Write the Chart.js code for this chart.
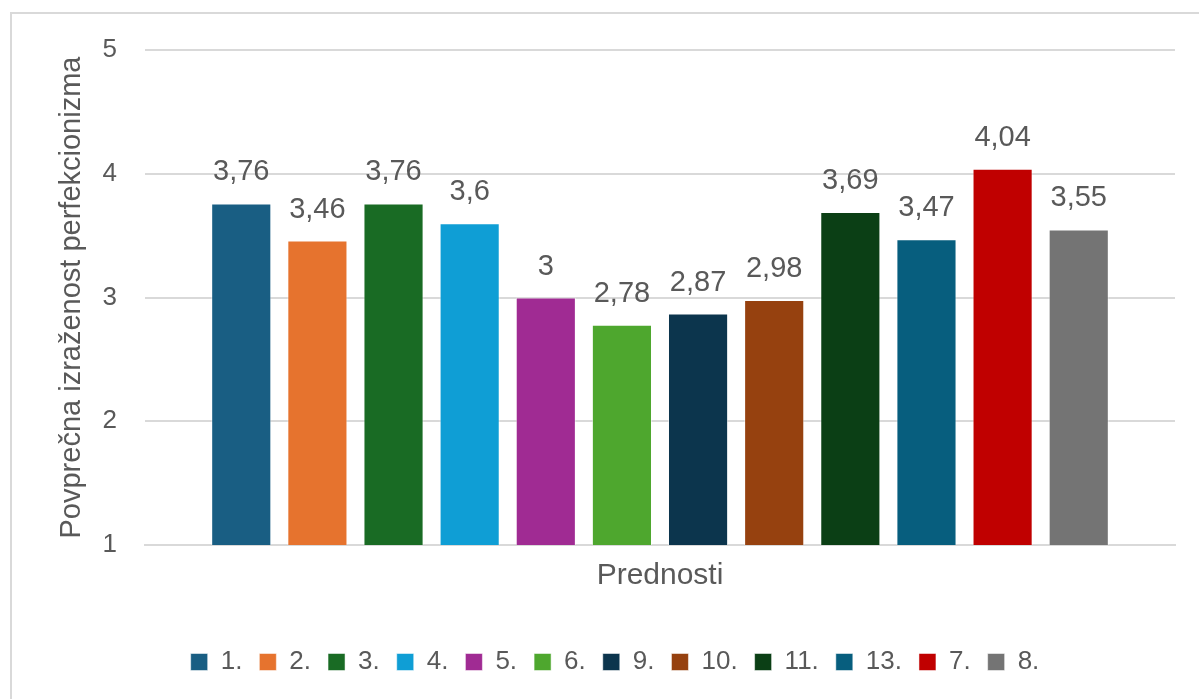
<!DOCTYPE html>
<html>
<head>
    <title>Prednosti</title>
    <script src="https://cdn.jsdelivr.net/npm/chart.js"></script>
    <style>
        body {
            margin: 0;
            background-color: #ffffff;
            overflow: hidden;
        }
        .frame {
            position: absolute;
            left: 10px;
            top: 12px;
            width: 1300px;
            height: 800px;
            border: 2px solid #d9d9d9;
        }
        .wrap {
            position: absolute;
            left: 0;
            top: 0;
            width: 1199px;
            height: 699px;
        }
    </style>
</head>
<body>
    <div class="frame"></div>
    <div class="wrap"><canvas id="chart"></canvas></div>

    <script>
        // Legend order as in the original
        var labels = ['1.', '2.', '3.', '4.', '5.', '6.', '9.', '10.', '11.', '13.', '7.', '8.'];
        var values = [3.76, 3.46, 3.76, 3.6, 3, 2.78, 2.87, 2.98, 3.69, 3.47, 4.04, 3.55];
        var colors = ['#195e83', '#e6732e', '#196b24', '#0f9ed5', '#a02b93', '#4ea72e',
                      '#0c354d', '#96410f', '#0b3f15', '#075e7e', '#c00000', '#747474'];
        var yTicks = [1, 2, 3, 4, 5];

        var textColor = '#595959';
        var fontFamily = "'Liberation Sans', Arial, sans-serif";

        // values above the bars, comma as decimal sign
        var valueLabels = {
            id: 'valueLabels',
            afterDatasetsDraw: function(chart) {
                var ctx = chart.ctx;
                ctx.save();
                ctx.font = '29px ' + fontFamily;
                ctx.fillStyle = textColor;
                ctx.textAlign = 'center';
                ctx.textBaseline = 'middle';
                chart.data.datasets.forEach(function(ds, i) {
                    var bar = chart.getDatasetMeta(i).data[0];
                    ctx.fillText(String(ds.data[0]).replace('.', ','), bar.x, bar.y - 31);
                });
                ctx.restore();
            }
        };

        new Chart(document.getElementById('chart'), {
            type: 'bar',
            plugins: [valueLabels],
            data: {
                labels: [''],
                datasets: labels.map(function(l, i) {
                    return {
                        label: l,
                        data: [values[i]],
                        backgroundColor: colors[i],
                        borderColor: 'rgba(255,255,255,0.5)',
                        borderWidth: 1,
                        categoryPercentage: 0.887,
                        barPercentage: 0.79
                    };
                })
            },
            options: {
                responsive: true,
                maintainAspectRatio: false,
                animation: false,
                layout: { padding: { left: 55, right: 24, top: 50, bottom: 14 } },
                plugins: {
                    tooltip: { enabled: false },
                    legend: {
                        position: 'bottom',
                        labels: {
                            boxWidth: 17,
                            boxHeight: 17,
                            padding: 17,
                            color: textColor,
                            font: { size: 26, family: fontFamily }
                        }
                    }
                },
                scales: {
                    x: {
                        ticks: { display: false },
                        grid: { display: false },
                        border: { display: true, color: '#d9d9d9', width: 2 },
                        title: {
                            display: true,
                            text: 'Prednosti',
                            color: textColor,
                            font: { size: 30, family: fontFamily },
                            padding: { top: 5, bottom: 38 }
                        }
                    },
                    y: {
                        min: yTicks[0],
                        max: yTicks[yTicks.length - 1],
                        afterBuildTicks: function(scale) {
                            scale.ticks = yTicks.map(function(v) { return { value: v }; });
                        },
                        afterFit: function(scale) {
                            scale.width = 90;
                        },
                        ticks: {
                            color: textColor,
                            padding: 28,
                            font: { size: 26, family: fontFamily }
                        },
                        grid: { color: '#d9d9d9', lineWidth: 2, drawTicks: false },
                        border: { display: false },
                        title: {
                            display: true,
                            text: 'Povprečna izraženost perfekcionizma',
                            color: textColor,
                            font: { size: 29, family: fontFamily },
                            padding: 0
                        }
                    }
                }
            }
        });
    </script>
</body>
</html>
